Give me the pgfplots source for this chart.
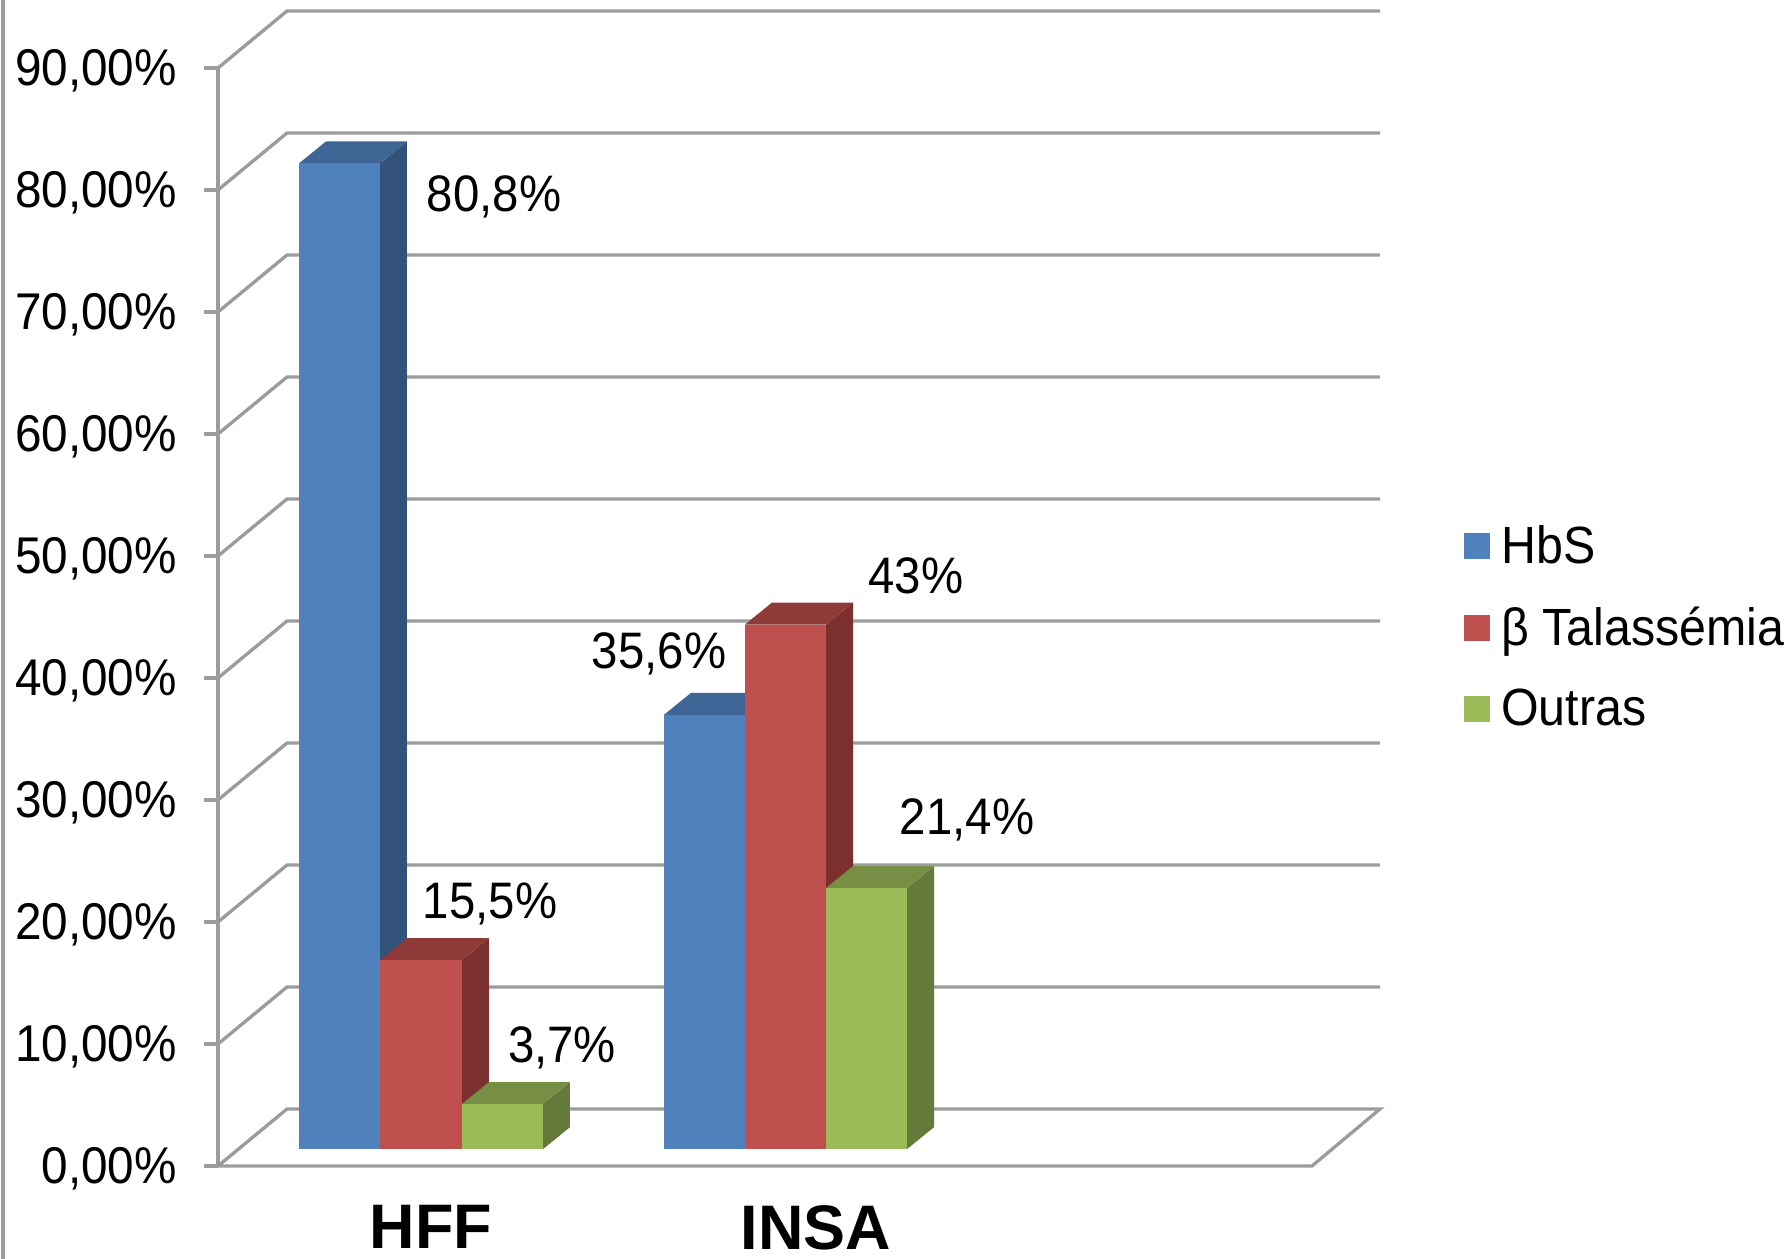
\documentclass[border=0pt]{standalone}
\usepackage{pgfplots}
\pgfplotsset{compat=1.18}
\usepackage{fontspec}
\setmainfont{Liberation Sans}[FakeStretch=0.923]
\newfontfamily\catfont{Liberation Sans}

\definecolor{hbsfront}{HTML}{4F81BD}
\definecolor{hbstop}{HTML}{3E6594}
\definecolor{hbsside}{HTML}{33527A}
\definecolor{talfront}{HTML}{C0504D}
\definecolor{taltop}{HTML}{8E3A38}
\definecolor{talside}{HTML}{7C302E}
\definecolor{outfront}{HTML}{9BBB59}
\definecolor{outtop}{HTML}{778F44}
\definecolor{outside}{HTML}{647A3A}
\definecolor{wall}{HTML}{9C9C9C}

% Extruded column: left edge, right edge, value, colour prefix.
% The front face stands 1.38 units above the floor line; depth is 27 x-units and 1.8 y-units.
\newcommand\solidbar[4]{%
  \pgfmathsetmacro\ytop{#3+1.38}%
  \pgfmathsetmacro\ytopback{#3+1.38+1.8}%
  \pgfmathsetmacro\xlback{#1+27}%
  \pgfmathsetmacro\xrback{#2+27}%
  \addplot[forget plot,fill=#4side,draw=none] coordinates {(#2,1.38) (\xrback,3.18) (\xrback,\ytopback) (#2,\ytop)} --cycle;
  \addplot[forget plot,fill=#4top,draw=none] coordinates {(#1,\ytop) (\xlback,\ytopback) (\xrback,\ytopback) (#2,\ytop)} --cycle;
  \addplot[fill=#4front,draw=none] coordinates {(#1,1.38) (#2,1.38) (#2,\ytop) (#1,\ytop)} --cycle;
}

\begin{document}
\begin{tikzpicture}[x=1cm,y=1cm]
\path[use as bounding box] (0,0) rectangle (17.92,12.59);
\draw[wall,line width=0.95pt] (0.03,0) -- (0.03,12.59);
\begin{axis}[
  at={(2.18cm,0.93cm)},anchor=south west,
  scale only axis,width=11.62cm,height=10.98cm,
  xmin=218,xmax=1380,ymin=0,ymax=90,
  clip=false,
  axis y line*=left,axis x line*=bottom,
  axis line style={-,draw=wall,line width=0.95pt},
  x axis line style={draw=none},
  xtick={431,816},xticklabels={HFF,INSA},
  xticklabel style={font=\catfont\fontsize{17.9}{20}\bfseries,text=black,inner sep=0pt,yshift=-0.245cm,anchor=north},
  ytick={0,10,...,90},
  yticklabel={\pgfmathprintnumber{\tick}\%},
  yticklabel style={
    /pgf/number format/.cd,fixed,fixed zerofill,precision=2,use comma,assume math mode=true,
    /tikz/.cd,font=\fontsize{14.7}{16}\selectfont,text=black,inner sep=0pt,xshift=-0.264cm,yshift=-0.03cm},
  tick style={draw=wall,line width=0.95pt},
  major tick length=0.14cm,
  tick align=outside,
  x tick style={draw=none},
  legend entries={HbS,β Talassémia,Outras},
  legend cell align=left,
  legend image code/.code={\fill[#1] (0cm,-0.12cm) rectangle (0.26cm,0.14cm);},
  legend style={
    draw=none,fill=none,at={(axis cs:1463,44.1)},anchor=west,
    font=\fontsize{14.9}{16}\selectfont,inner sep=0pt,
    row sep=0.24cm,
    /tikz/every odd column/.append style={column sep=0.046cm},
  },
]
% Back wall, side wall and floor
\addplot[forget plot,wall,line width=0.95pt,unbounded coords=jump] coordinates {
  (218,10)(287,14.67)(1380,14.67)(218,nan)
  (218,20)(287,24.67)(1380,24.67)(218,nan)
  (218,30)(287,34.67)(1380,34.67)(218,nan)
  (218,40)(287,44.67)(1380,44.67)(218,nan)
  (218,50)(287,54.67)(1380,54.67)(218,nan)
  (218,60)(287,64.67)(1380,64.67)(218,nan)
  (218,70)(287,74.67)(1380,74.67)(218,nan)
  (218,80)(287,84.67)(1380,84.67)(218,nan)
  (218,90)(287,94.67)(1380,94.67)(218,nan)
  (218,0)(287,4.67)(1380,4.67)(1312,0)(218,0)
};
% HFF
\solidbar{299}{380}{80.8}{hbs}
\solidbar{380}{462}{15.5}{tal}
\solidbar{462}{543}{3.7}{out}
% INSA
\solidbar{664}{745}{35.6}{hbs}
\solidbar{745}{826}{43}{tal}
\solidbar{826}{907}{21.4}{out}
% Value labels
\begin{scope}[every node/.style={anchor=base,inner sep=0pt,font=\fontsize{14.6}{16}\selectfont}]
\node at (axis cs:494,78.2) {80,8\%};
\node at (axis cs:490,20.25) {15,5\%};
\node at (axis cs:562,8.5) {3,7\%};
\node at (axis cs:659,40.8) {35,6\%};
\node at (axis cs:916,46.9) {43\%};
\node at (axis cs:967,27.2) {21,4\%};
\end{scope}
\end{axis}
\end{tikzpicture}
\end{document}
